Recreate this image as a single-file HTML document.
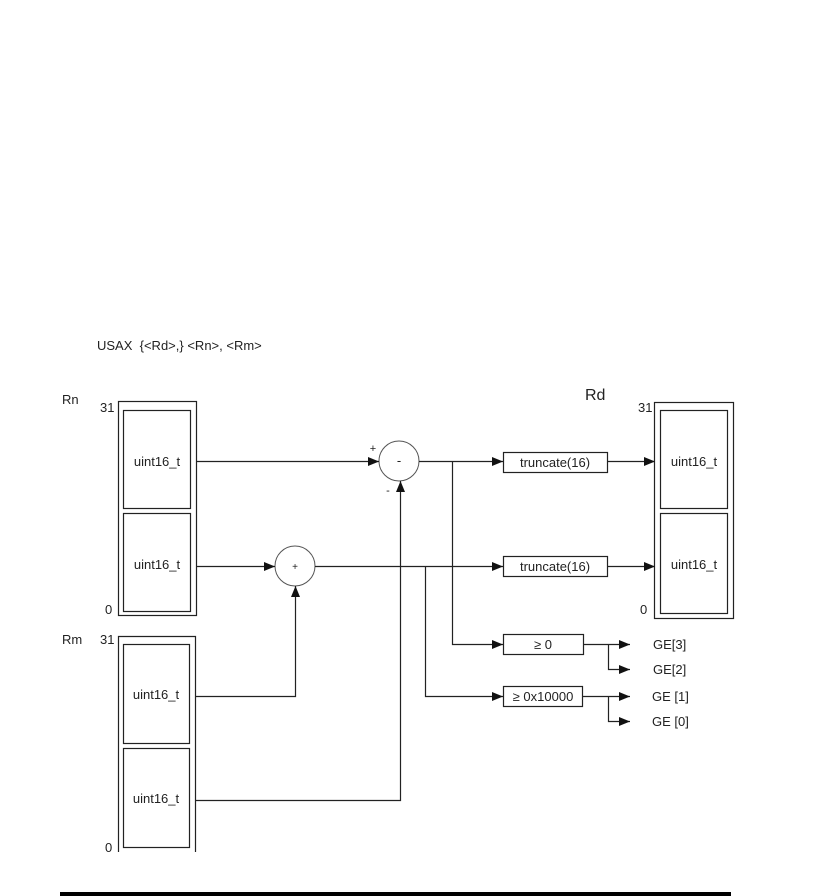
<!DOCTYPE html>
<html><head><meta charset="utf-8"><style>
html,body{margin:0;padding:0;background:#fff;}
svg{display:block;}
text{font-family:"Liberation Sans",sans-serif;font-size:13px;fill:#222;}
</style></head><body>
<svg width="834" height="896" viewBox="0 0 834 896" xmlns="http://www.w3.org/2000/svg">
<defs>
<marker id="a" markerWidth="11" markerHeight="9" refX="11" refY="4.5" orient="auto" markerUnits="userSpaceOnUse">
<path d="M0,0 L11,4.5 L0,9 z" fill="#111"/></marker>
</defs>
<g fill="none" stroke="#222" stroke-width="1.2">
<rect x="118.5" y="401.5" width="78" height="214"/>
<rect x="123.5" y="410.5" width="67" height="98"/>
<rect x="123.5" y="513.5" width="67" height="98"/>
<path d="M118.5,852 V636.5 H195.5 V852"/>
<rect x="123.5" y="644.5" width="66" height="99"/>
<rect x="123.5" y="748.5" width="66" height="99"/>
<rect x="654.5" y="402.5" width="79" height="216"/>
<rect x="660.5" y="410.5" width="67" height="98"/>
<rect x="660.5" y="513.5" width="67" height="100"/>
<circle cx="399" cy="461" r="20" stroke="#555" stroke-width="1"/>
<circle cx="295" cy="566" r="20" stroke="#555" stroke-width="1"/>
<rect x="503.5" y="452.5" width="104" height="20"/>
<rect x="503.5" y="556.5" width="104" height="20"/>
<rect x="503.5" y="634.5" width="80" height="20"/>
<rect x="503.5" y="686.5" width="79" height="20"/>
<path d="M197,461.5 H379" marker-end="url(#a)"/>
<path d="M197,566.5 H275" marker-end="url(#a)"/>
<path d="M196,696.5 H295.5 V586" marker-end="url(#a)"/>
<path d="M196,800.5 H400.5 V481" marker-end="url(#a)"/>
<path d="M419,461.5 H503" marker-end="url(#a)"/>
<path d="M452.5,461.5 V644.5 H503" marker-end="url(#a)"/>
<path d="M315,566.5 H503" marker-end="url(#a)"/>
<path d="M425.5,566.5 V696.5 H503" marker-end="url(#a)"/>
<path d="M607,461.5 H655" marker-end="url(#a)"/>
<path d="M607,566.5 H655" marker-end="url(#a)"/>
<path d="M583,644.5 H630" marker-end="url(#a)"/>
<path d="M608.5,644.5 V669.5 H630" marker-end="url(#a)"/>
<path d="M582,696.5 H630" marker-end="url(#a)"/>
<path d="M608.5,696.5 V721.5 H630" marker-end="url(#a)"/>
</g>
<rect x="60" y="892" width="671" height="4" fill="#000"/>
<text x="97" y="350" xml:space="preserve">USAX  {&lt;Rd&gt;,} &lt;Rn&gt;, &lt;Rm&gt;</text>
<text x="62" y="404">Rn</text>
<text x="100" y="412">31</text>
<text x="105" y="614">0</text>
<text x="62" y="644">Rm</text>
<text x="100" y="644">31</text>
<text x="105" y="852">0</text>
<text x="585" y="400" style="font-size:16px">Rd</text>
<text x="638" y="412">31</text>
<text x="640" y="614">0</text>
<g text-anchor="middle">
<text x="157" y="466">uint16_t</text>
<text x="157" y="569">uint16_t</text>
<text x="156" y="699">uint16_t</text>
<text x="156" y="803">uint16_t</text>
<text x="694" y="466">uint16_t</text>
<text x="694" y="569">uint16_t</text>
<text x="555" y="467">truncate(16)</text>
<text x="555" y="571">truncate(16)</text>
<text x="543" y="649">≥ 0</text>
<text x="543" y="701">≥ 0x10000</text>
<text x="399" y="465">-</text>
<text x="295" y="570" style="font-size:10px">+</text>
<text x="373" y="452" style="font-size:11px">+</text>
<text x="388" y="494" style="font-size:11px">-</text>
</g>
<text x="653" y="649">GE[3]</text>
<text x="653" y="674">GE[2]</text>
<text x="652" y="701">GE [1]</text>
<text x="652" y="726">GE [0]</text>
</svg>
</body></html>
